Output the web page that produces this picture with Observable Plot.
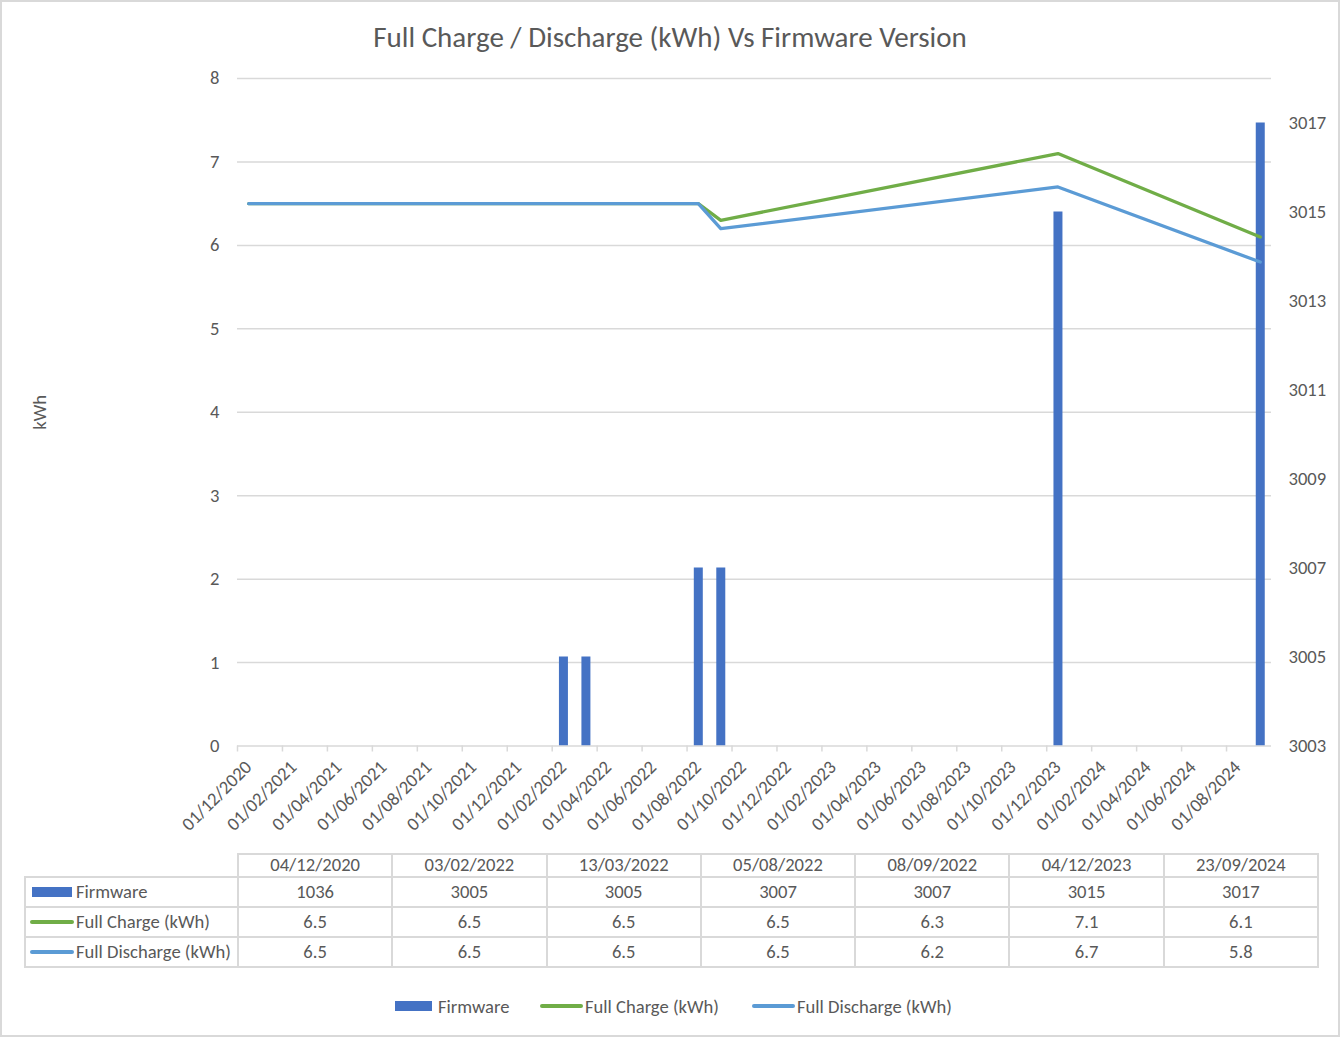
<!DOCTYPE html>
<html>
<head>
<meta charset="utf-8">
<script src="https://cdn.jsdelivr.net/npm/d3@7"></script>
<script src="https://cdn.jsdelivr.net/npm/@observablehq/plot@0.6"></script>
<style>
  html, body { margin: 0; padding: 0; background: #fff; }
  #chart { position: relative; width: 1340px; height: 1037px; overflow: hidden; color: #595959; }
  #frame { position: absolute; left: 0; top: 0; width: 1340px; height: 1037px; box-sizing: border-box; border: 2px solid #D9D9D9; pointer-events: none; }
  #title { position: absolute; left: 0; width: 1340px; text-align: center; white-space: nowrap; }
  #plot { position: absolute; left: 0; top: 0; }
  #table { position: absolute; left: 24px; top: 853px; border-collapse: collapse; table-layout: fixed; }
  #table td { border: 2px solid #D9D9D9; text-align: center; padding: 0; white-space: nowrap; line-height: 1; overflow: hidden; }
  #table td.key { text-align: left; }
  #table td.blank { border-top: none; border-left: none; }
  .keywrap { display: flex; align-items: center; }
  #legend { position: absolute; left: 0; top: 993px; width: 1340px; height: 26px; }
  .litem { position: absolute; top: 0; height: 26px; display: flex; align-items: center; white-space: nowrap; }
</style>
</head>
<body>
<div id="chart">
  <div id="title"></div>
  <div id="plot"></div>
  <table id="table"></table>
  <div id="legend"></div>
  <div id="frame"></div>
</div>
<script>
// ---------------- data ----------------
const titleText = "Full Charge / Discharge (kWh) Vs Firmware Version";
const yLabel = "kWh";
const dates = ["04/12/2020", "03/02/2022", "13/03/2022", "05/08/2022", "08/09/2022", "04/12/2023", "23/09/2024"];
const firmware = [1036, 3005, 3005, 3007, 3007, 3015, 3017];
const fullCharge = [6.5, 6.5, 6.5, 6.5, 6.3, 7.1, 6.1];
const fullDischarge = [6.5, 6.5, 6.5, 6.5, 6.2, 6.7, 5.8];
const seriesNames = ["Firmware", "Full Charge (kWh)", "Full Discharge (kWh)"];
const seriesColors = ["#4472C4", "#70AD47", "#5B9BD5"];
const kwhTicks = [0, 1, 2, 3, 4, 5, 6, 7, 8];
const firmwareTicks = [3003, 3005, 3007, 3009, 3011, 3013, 3015, 3017];
const firmwareDomain = [3003, 3018];
const xTickLabels = ["01/12/2020", "01/02/2021", "01/04/2021", "01/06/2021", "01/08/2021", "01/10/2021",
  "01/12/2021", "01/02/2022", "01/04/2022", "01/06/2022", "01/08/2022", "01/10/2022", "01/12/2022",
  "01/02/2023", "01/04/2023", "01/06/2023", "01/08/2023", "01/10/2023", "01/12/2023", "01/02/2024",
  "01/04/2024", "01/06/2024", "01/08/2024"];
const axisStart = "01/12/2020";
const axisEnd = "01/10/2024";

// ---------------- helpers ----------------
const FONT = "Carlito, Calibri, Lato, 'Open Sans', sans-serif";
function fitSize(str, target) {
  const ctx = document.createElement("canvas").getContext("2d");
  ctx.font = `100px ${FONT}`;
  return 100 * target / ctx.measureText(str).width;
}
const baseSize = fitSize("Full Discharge (kWh)", 155);
const titleSize = fitSize(titleText, 594);

// month index since the axis start (Excel date axis with month base unit)
function monthIndex(s) {
  const [d, m, y] = s.split("/").map(Number);
  const [, m0, y0] = axisStart.split("/").map(Number);
  return (y - y0) * 12 + (m - m0);
}
const kLo = kwhTicks[0], kHi = kwhTicks[kwhTicks.length - 1];
const toK = f => kLo + (f - firmwareDomain[0]) / (firmwareDomain[1] - firmwareDomain[0]) * (kHi - kLo);

const rows = dates.map((s, i) => ({
  date: s,
  mi: monthIndex(s) + 0.5,
  firmware: firmware[i],
  charge: fullCharge[i],
  discharge: fullDischarge[i]
}));
const xTickPos = xTickLabels.map(monthIndex);
const xLabelMap = new Map(xTickPos.map((p, i) => [p, xTickLabels[i]]));
const fwTickPos = firmwareTicks.map(toK);
const fwLabelMap = new Map(fwTickPos.map((p, i) => [p, String(firmwareTicks[i])]));

// ---------------- title ----------------
const title = document.getElementById("title");
title.textContent = titleText;
title.style.fontFamily = FONT;
title.style.fontSize = titleSize + "px";
title.style.top = (37 - titleSize * 0.62) + "px";
title.style.lineHeight = (titleSize * 1.24) + "px";

// ---------------- plot ----------------
const W = 1340, H = 850;
const plot = Plot.plot({
  width: W,
  height: H,
  marginLeft: 237,
  marginRight: W - 1271,
  marginTop: 78,
  marginBottom: H - 745.5,
  x: { type: "linear", domain: [monthIndex(axisStart), monthIndex(axisEnd)] },
  y: { domain: [kLo, kHi] },
  style: { fontFamily: FONT, fontSize: baseSize + "px", color: "#595959", background: "transparent", overflow: "visible" },
  marks: [
    Plot.ruleY(kwhTicks, { stroke: "#D9D9D9", strokeWidth: 1.5 }),
    Plot.axisX({ ticks: xTickPos, tickSize: 6, stroke: "#D9D9D9", strokeWidth: 1.5, strokeOpacity: 1, tickFormat: () => "", label: null }),
    // firmware values below the right axis minimum fall outside the plot (as in the source chart)
    Plot.ruleX(rows.filter(d => d.firmware > firmwareDomain[0]), { x: "mi", y1: kLo, y2: d => toK(d.firmware), stroke: seriesColors[0], strokeWidth: 9, clip: true }),
    Plot.line(rows, { x: "mi", y: "charge", stroke: seriesColors[1], strokeWidth: 3.3, strokeLinejoin: "round", strokeLinecap: "round" }),
    Plot.line(rows, { x: "mi", y: "discharge", stroke: seriesColors[2], strokeWidth: 3.3, strokeLinejoin: "round", strokeLinecap: "round" }),
    Plot.axisX({ ticks: xTickPos, tickSize: 0, tickPadding: 18, tickRotate: -45, dx: 11,
      tickFormat: p => xLabelMap.get(p), fill: "#595959", fontSize: baseSize, label: null }),
    Plot.axisY({ ticks: kwhTicks, tickSize: 0, tickPadding: 18, fill: "#595959", fontSize: baseSize, label: null }),
    Plot.axisY({ anchor: "right", ticks: fwTickPos, tickFormat: p => fwLabelMap.get(p), tickSize: 0, tickPadding: 17,
      fill: "#595959", fontSize: baseSize, label: null }),
    Plot.text([yLabel], { frameAnchor: "left", textAnchor: "middle", dx: -197, rotate: -90, fill: "#595959", fontSize: baseSize })
  ]
});
document.getElementById("plot").appendChild(plot);

// ---------------- data table ----------------
function keySwatch(i) {
  const s = document.createElement("span");
  s.style.display = "inline-block";
  s.style.background = seriesColors[i];
  if (i === 0) { s.style.width = "40px"; s.style.height = "10px"; s.style.marginLeft = "6px"; s.style.marginRight = "4px"; }
  else { s.style.width = "44px"; s.style.height = "3.5px"; s.style.borderRadius = "2px"; s.style.marginLeft = "4px"; s.style.marginRight = "2px"; }
  return s;
}
const table = document.getElementById("table");
table.style.fontFamily = FONT;
table.style.fontSize = baseSize + "px";
const colgroup = document.createElement("colgroup");
[213, ...dates.map(() => 1080 / dates.length)].forEach(w => {
  const c = document.createElement("col"); c.style.width = w + "px"; colgroup.appendChild(c);
});
table.appendChild(colgroup);
const tbody = document.createElement("tbody");
const header = document.createElement("tr");
header.style.height = "23px";
const blank = document.createElement("td"); blank.className = "blank"; header.appendChild(blank);
dates.forEach(d => { const td = document.createElement("td"); td.textContent = d; header.appendChild(td); });
tbody.appendChild(header);
const series = [firmware, fullCharge, fullDischarge];
series.forEach((vals, si) => {
  const tr = document.createElement("tr");
  tr.style.height = "30px";
  const key = document.createElement("td"); key.className = "key";
  const wrap = document.createElement("div"); wrap.className = "keywrap";
  wrap.appendChild(keySwatch(si));
  const lab = document.createElement("span"); lab.textContent = seriesNames[si]; wrap.appendChild(lab);
  key.appendChild(wrap); tr.appendChild(key);
  vals.forEach(v => { const td = document.createElement("td"); td.textContent = String(v); tr.appendChild(td); });
  tbody.appendChild(tr);
});
table.appendChild(tbody);

// ---------------- legend ----------------
const legend = document.getElementById("legend");
legend.style.fontFamily = FONT;
legend.style.fontSize = baseSize + "px";
const legendLeft = [395, 540, 752];
seriesNames.forEach((name, i) => {
  const item = document.createElement("div"); item.className = "litem";
  item.style.left = legendLeft[i] + "px";
  const sw = document.createElement("span");
  sw.style.display = "inline-block"; sw.style.background = seriesColors[i];
  if (i === 0) { sw.style.width = "37px"; sw.style.height = "10px"; sw.style.marginRight = "6px"; }
  else { sw.style.width = "43px"; sw.style.height = "3.5px"; sw.style.borderRadius = "2px"; sw.style.marginRight = "2px"; }
  const t = document.createElement("span"); t.textContent = name;
  item.appendChild(sw); item.appendChild(t);
  legend.appendChild(item);
});
</script>
</body>
</html>
